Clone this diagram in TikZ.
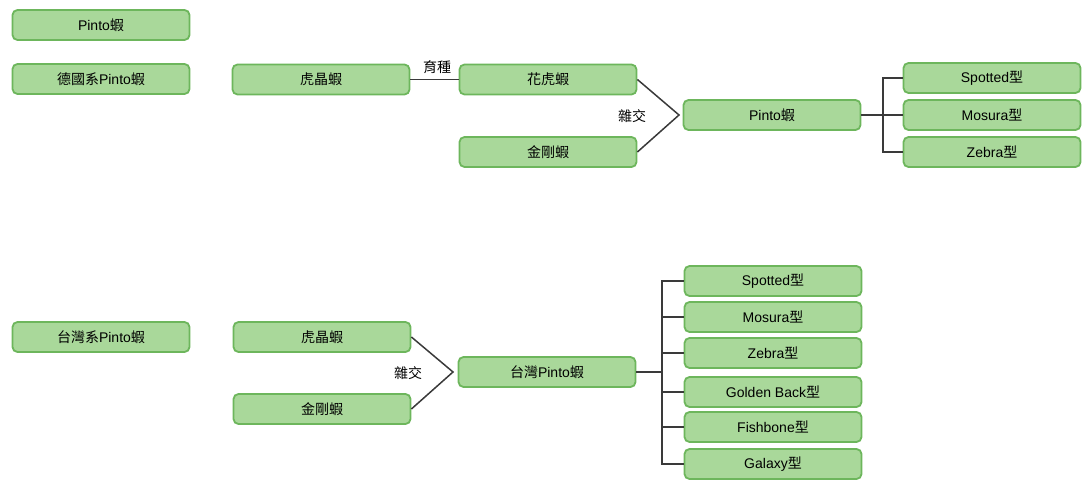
\documentclass[tikz,border=0pt]{standalone}
\usepackage{fontspec}
\setmainfont{Liberation Sans}
\newfontfamily\cjk{Noto Sans CJK TC}
\definecolor{boxfill}{HTML}{A9D89A}
\definecolor{boxline}{HTML}{6DB65C}
\definecolor{linkc}{HTML}{3A3A3A}
\begin{document}
\begin{tikzpicture}[x=1pt,y=-1pt,
  box/.style={draw=boxline,line width=1.8pt,fill=boxfill,rounded corners=5pt,
    minimum width=177pt,minimum height=30pt,inner sep=0pt,font=\fontsize{14}{16}\selectfont},
  link/.style={draw=linkc,line width=1.5pt},
  lbl/.style={font=\fontsize{14}{16}\selectfont\cjk,inner sep=1pt}]
\useasboundingbox (0,0) rectangle (1083,481);
% top section
\node[box] (p0) at (101,25) {Pinto{\cjk 蝦}};
\node[box] (de) at (101,79) {{\cjk 德國系}Pinto{\cjk 蝦}};
\node[box] (hj1) at (321,79.5) {\cjk 虎晶蝦};
\node[box] (hh) at (548,79.5) {\cjk 花虎蝦};
\node[box] (jg1) at (548,152) {\cjk 金剛蝦};
\node[box] (p1) at (772,115) {Pinto{\cjk 蝦}};
\node[box] (s1) at (992,78) {Spotted{\cjk 型}};
\node[box] (m1) at (992,115) {Mosura{\cjk 型}};
\node[box] (z1) at (992,152) {Zebra{\cjk 型}};
\node[lbl] (yz) at (437,67) {育種};
\node[lbl] (zj1) at (632,116) {雜交};
\coordinate (v1) at (679,115);
\coordinate (b1) at (883,115);
\draw[link] (hj1.east) -- (hh.west);
\draw[link] (hh.east) -- (v1) -- (jg1.east);
\draw[link] (p1.east) -- (b1);
\draw[link] (s1.west) -| (b1) |- (z1.west);
\draw[link] (b1) -- (m1.west);
% bottom section
\node[box] (tw) at (101,337) {{\cjk 台灣系}Pinto{\cjk 蝦}};
\node[box] (hj2) at (322,337) {\cjk 虎晶蝦};
\node[box] (jg2) at (322,409) {\cjk 金剛蝦};
\node[box] (tp) at (547,372) {{\cjk 台灣}Pinto{\cjk 蝦}};
\node[lbl] (zj2) at (408,373) {雜交};
\coordinate (v2) at (453,372);
\draw[link] (hj2.east) -- (v2) -- (jg2.east);
\node[box] (s2) at (773,281) {Spotted{\cjk 型}};
\node[box] (m2) at (773,317) {Mosura{\cjk 型}};
\node[box] (z2) at (773,353) {Zebra{\cjk 型}};
\node[box] (g2) at (773,392) {Golden Back{\cjk 型}};
\node[box] (f2) at (773,427) {Fishbone{\cjk 型}};
\node[box] (x2) at (773,464) {Galaxy{\cjk 型}};
\coordinate (b2) at (662,372);
\draw[link] (tp.east) -- (b2);
\draw[link] (s2.west) -| (b2) |- (x2.west);
\foreach \n in {m2,z2,g2,f2} \draw[link] (\n.west) -- (\n.west -| b2);
\end{tikzpicture}
\end{document}
